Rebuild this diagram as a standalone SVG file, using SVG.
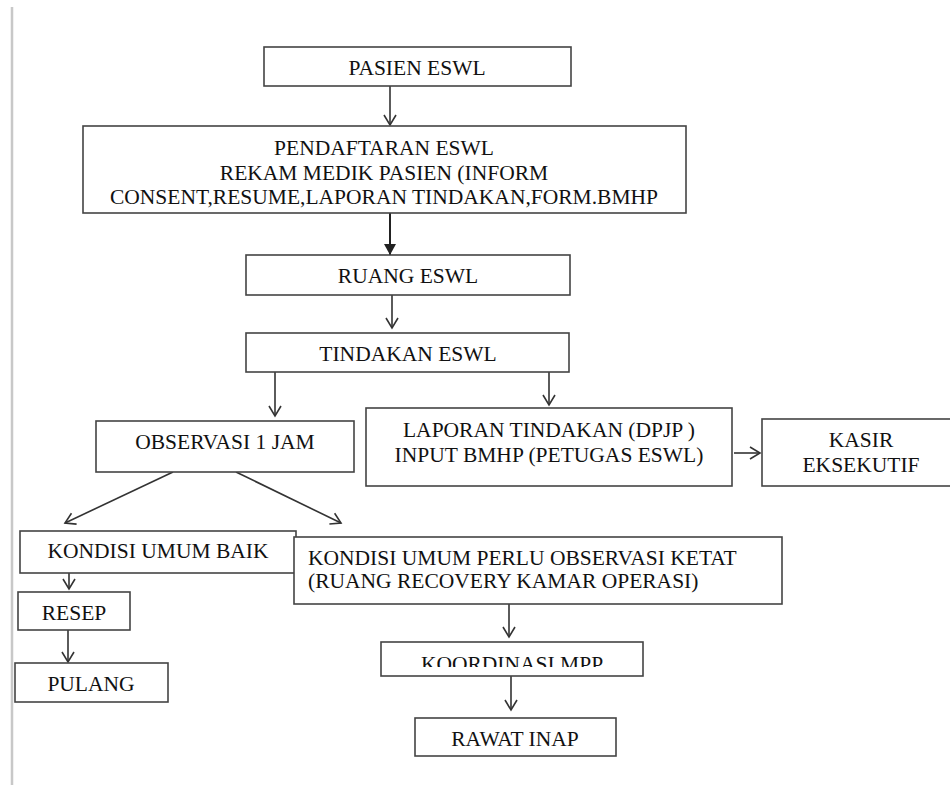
<svg xmlns="http://www.w3.org/2000/svg" width="950" height="785" viewBox="0 0 950 785">
<style>
.box{fill:#fff;stroke:#444;stroke-width:1.6}
.t{font-family:"Liberation Serif","Times New Roman",serif;font-size:21.5px;fill:#111;text-anchor:middle}
.tl{text-anchor:start}
.c{fill:none;stroke:#333;stroke-width:1.6}
.cb{fill:none;stroke:#222;stroke-width:2}
</style>
<defs>
<marker id="open" markerWidth="16" markerHeight="16" refX="12" refY="8" orient="auto" markerUnits="userSpaceOnUse">
<path d="M2,2 L12,8 L2,14" fill="none" stroke="#333" stroke-width="1.6"/>
</marker>
<marker id="filled" markerWidth="14" markerHeight="14" refX="11" refY="6" orient="auto" markerUnits="userSpaceOnUse">
<path d="M0,0 L11,6 L0,12 z" fill="#222"/>
</marker>
<clipPath id="clipK"><rect x="381" y="642" width="262" height="25"/></clipPath>
</defs>
<rect width="950" height="785" fill="#fff"/>
<line x1="12" y1="7" x2="12" y2="785" stroke="#c8c8c8" stroke-width="2.5"/>

<g id="connectors">
<line class="c" x1="390" y1="86" x2="390" y2="125" marker-end="url(#open)"/>
<line class="cb" x1="390" y1="213" x2="390" y2="255" marker-end="url(#filled)"/>
<line class="c" x1="392" y1="295" x2="392" y2="328" marker-end="url(#open)"/>
<line class="c" x1="275" y1="372" x2="275" y2="416" marker-end="url(#open)"/>
<line class="c" x1="549" y1="372" x2="549" y2="405" marker-end="url(#open)"/>
<line class="c" x1="734" y1="453" x2="760" y2="453" marker-end="url(#open)"/>
<line class="c" x1="173" y1="472" x2="65" y2="523" marker-end="url(#open)"/>
<line class="c" x1="236" y1="472" x2="341" y2="523" marker-end="url(#open)"/>
<line class="c" x1="69" y1="573" x2="69" y2="589" marker-end="url(#open)"/>
<line class="c" x1="68" y1="630" x2="68" y2="662" marker-end="url(#open)"/>
<line class="c" x1="509" y1="604" x2="509" y2="637" marker-end="url(#open)"/>
<line class="c" x1="511" y1="676" x2="511" y2="710" marker-end="url(#open)"/>
</g>

<g id="pasien">
<rect class="box" x="264" y="47" width="307" height="39"/>
<text class="t" x="417" y="75">PASIEN ESWL</text>
</g>
<g id="pendaftaran">
<rect class="box" x="83" y="126" width="603" height="87"/>
<text class="t" x="384" y="155">PENDAFTARAN ESWL</text>
<text class="t" x="384" y="180">REKAM MEDIK PASIEN (INFORM</text>
<text class="t" x="384" y="204">CONSENT,RESUME,LAPORAN TINDAKAN,FORM.BMHP</text>
</g>
<g id="ruang">
<rect class="box" x="246" y="255" width="324" height="40"/>
<text class="t" x="408" y="283">RUANG ESWL</text>
</g>
<g id="tindakan">
<rect class="box" x="246" y="333" width="323" height="39"/>
<text class="t" x="408" y="361">TINDAKAN ESWL</text>
</g>
<g id="observasi">
<rect class="box" x="96" y="421" width="258" height="51"/>
<text class="t" x="225" y="449">OBSERVASI 1 JAM</text>
</g>
<g id="laporan">
<rect class="box" x="366" y="408" width="366" height="78"/>
<text class="t" x="549" y="437">LAPORAN TINDAKAN (DPJP )</text>
<text class="t" x="549" y="462">INPUT BMHP (PETUGAS ESWL)</text>
</g>
<g id="kasir">
<rect class="box" x="762" y="419" width="200" height="67"/>
<text class="t" x="861" y="447">KASIR</text>
<text class="t" x="861" y="472">EKSEKUTIF</text>
</g>
<g id="baik">
<rect class="box" x="20" y="531" width="276" height="42"/>
<text class="t" x="158" y="558">KONDISI UMUM BAIK</text>
</g>
<g id="perlu">
<rect class="box" x="294" y="537" width="488" height="67"/>
<text class="t tl" x="308" y="565">KONDISI UMUM PERLU OBSERVASI KETAT</text>
<text class="t tl" x="308" y="588">(RUANG RECOVERY KAMAR OPERASI)</text>
</g>
<g id="resep">
<rect class="box" x="18" y="592" width="112" height="38"/>
<text class="t" x="74" y="620">RESEP</text>
</g>
<g id="pulang">
<rect class="box" x="15" y="663" width="153" height="39"/>
<text class="t" x="91" y="691">PULANG</text>
</g>
<g id="koordinasi">
<rect class="box" x="381" y="642" width="262" height="34"/>
<text class="t" x="512" y="671" clip-path="url(#clipK)">KOORDINASI MPP</text>
</g>
<g id="rawat">
<rect class="box" x="415" y="718" width="201" height="38"/>
<text class="t" x="515" y="746">RAWAT INAP</text>
</g>
</svg>
